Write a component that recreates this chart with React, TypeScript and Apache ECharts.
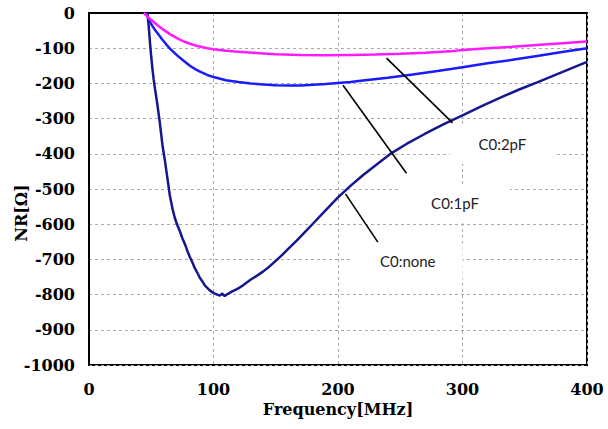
import React, { useEffect, useRef } from "react";
import * as echarts from "echarts";

// C0:none (navy)
const noneFreq = [47, 48, 49, 50, 51, 52, 53, 54, 55, 57, 59, 61, 63, 65, 67, 69, 71, 73, 75, 77, 79, 81, 83, 85, 87, 89, 91, 93, 95, 97, 99, 101, 103, 105, 107, 109, 111, 113, 115, 118, 121, 124, 127, 130, 135, 140, 145, 150, 155, 160, 167, 173, 180, 190, 200, 210, 220, 230, 243, 255, 270, 285, 300, 315, 330, 345, 360, 380, 400];
const noneNR = [0, -40, -85, -125, -160, -190, -215, -238, -262, -315, -375, -420, -470, -520, -555, -583, -603, -620, -640, -656, -676, -693, -708, -725, -738, -752, -762, -774, -781, -788, -793, -797, -800, -803, -797, -804, -799, -795, -791, -786, -780, -773, -765, -757, -746, -734, -720, -704, -688, -670, -646, -624, -598, -561, -524, -491, -461, -433, -398, -372, -343, -316, -291, -265, -241, -218, -197, -168, -139];

// C0:1pF (blue)
const pf1Freq = [46, 48, 50, 53, 56, 59, 62, 65, 68, 71, 75, 81, 86, 90, 95, 100, 110, 120, 130, 140, 150, 160, 170, 180, 190, 200, 210, 220, 240, 260, 280, 300, 320, 340, 360, 380, 400];
const pf1NR = [0, -18, -32, -48, -62, -76, -89, -101, -111, -121, -133, -150, -161, -168, -176, -182, -191, -196, -200, -203, -205, -206, -206, -204, -202, -199, -196, -192, -184, -175, -165, -154, -143, -133, -122, -111, -100];

// C0:2pF (magenta)
const pf2Freq = [44, 47, 50, 55, 60, 65, 70, 75, 80, 87, 95, 100, 110, 120, 137, 150, 170, 190, 210, 230, 250, 270, 290, 300, 320, 340, 360, 380, 400];
const pf2NR = [0, -10, -20, -35, -48, -60, -70, -79, -86, -94, -100, -103, -107, -110, -114, -117, -119, -120, -119, -118, -116, -113, -109, -105, -100, -96, -91, -86, -81];

const xTicks = { min: 0, max: 400, step: 100 };
const yTicks = { min: -1000, max: 0, step: 100 };

// annotations: label, text-box centre [freq, NR], leader line from/to
const annLabels = ["C0:2pF", "C0:1pF", "C0:none"];
const annCenters = [[332, -372], [294, -540], [256, -705]];
const annSizes = [[105, 40], [110, 34], [110, 36]];
const leaderFrom = [[239, -128], [204, -205], [206, -514]];
const leaderTo = [[292, -312], [255, -455], [232, -651]];

const zip = (xs: number[], ys: number[]) => xs.map((x, i) => [x, ys[i]]);

const axisFont = {
  fontFamily: "DejaVu Serif",
  fontWeight: "bold" as const,
  fontSize: 16,
  color: "#000",
};

export default function App() {
  const ref = useRef<HTMLDivElement>(null);
  useEffect(() => {
    if (!ref.current) return;
    const chart = echarts.init(ref.current, null, { renderer: "svg" });
    const lineCommon = {
      type: "line" as const,
      showSymbol: false,
      symbol: "none",
      smooth: false,
    };
    chart.setOption({
      animation: false,
      backgroundColor: "#fff",
      grid: {
        left: 89,
        top: 13,
        width: 498,
        height: 352,
        show: true,
        borderColor: "#000",
        borderWidth: 2,
        containLabel: false,
        outerBoundsMode: "none",
      },
      xAxis: {
        type: "value",
        min: xTicks.min,
        max: xTicks.max,
        interval: xTicks.step,
        axisLine: { show: true, lineStyle: { color: "#000", width: 2 } },
        axisTick: { show: false },
        splitLine: { show: true, lineStyle: { color: "#aaa", type: [3, 3], width: 1 } },
        axisLabel: { ...axisFont, margin: 16, formatter: (v: number) => String(v) },
        name: "Frequency[MHz]",
        nameLocation: "middle",
        nameGap: 32,
        nameTextStyle: axisFont,
      },
      yAxis: {
        type: "value",
        min: yTicks.min,
        max: yTicks.max,
        interval: yTicks.step,
        axisLine: { show: true, lineStyle: { color: "#000", width: 2 } },
        axisTick: { show: false },
        splitLine: { show: true, lineStyle: { color: "#aaa", type: [3, 3], width: 1 } },
        axisLabel: { ...axisFont, margin: 14, formatter: (v: number) => String(v) },
        name: "NR[Ω]",
        nameLocation: "middle",
        nameGap: 60,
        nameMoveOverlap: false,
        nameTextStyle: { ...axisFont, padding: [0, 48, 0, 0] },
      },
      series: [
        {
          ...lineCommon,
          name: "C0:none",
          data: zip(noneFreq, noneNR),
          lineStyle: { color: "#16168f", width: 2.5 },
          itemStyle: { color: "#16168f" },
          markLine: {
            silent: true,
            symbol: ["none", "none"],
            label: { show: false },
            lineStyle: { color: "#000", width: 1.6, type: "solid" },
            data: leaderFrom.map((f, i) => [{ coord: f }, { coord: leaderTo[i] }]),
          },
          markPoint: {
            silent: true,
            data: annLabels.map((t, i) => ({
              coord: annCenters[i],
              symbol: "rect",
              symbolSize: annSizes[i],
              itemStyle: { color: "#fff", borderWidth: 0 },
              label: {
                show: true,
                formatter: t,
                position: "inside",
                color: "#222",
                fontFamily: "Lato",
                fontSize: 15,
              },
            })),
          },
        },
        {
          ...lineCommon,
          name: "C0:1pF",
          data: zip(pf1Freq, pf1NR),
          lineStyle: { color: "#1a1aff", width: 2.5 },
          itemStyle: { color: "#1a1aff" },
        },
        {
          ...lineCommon,
          name: "C0:2pF",
          data: zip(pf2Freq, pf2NR),
          lineStyle: { color: "#ff1aff", width: 2.5 },
          itemStyle: { color: "#ff1aff" },
        },
      ],
    });
    return () => chart.dispose();
  }, []);
  return (
    <div
      ref={ref}
      style={{ position: "absolute", left: 0, top: 0, width: 608, height: 429 }}
    />
  );
}
